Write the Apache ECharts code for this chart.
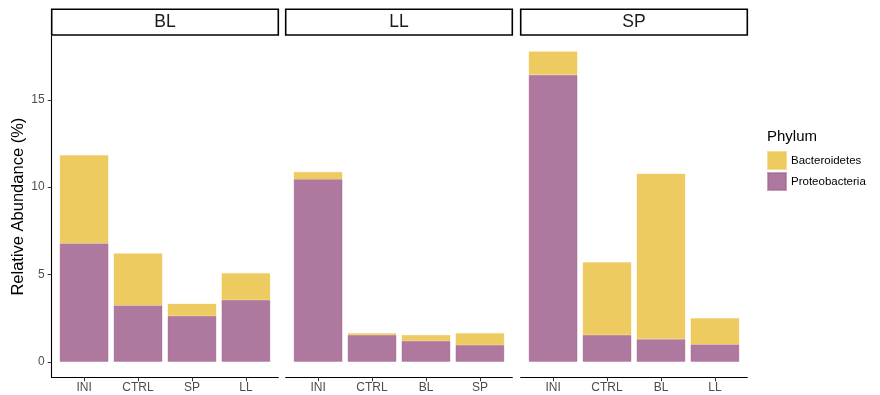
<!DOCTYPE html>
<html>
<head>
<meta charset="utf-8">
<script src="https://cdn.jsdelivr.net/npm/echarts@6/dist/echarts.min.js"></script>
<style>
  html, body { margin: 0; padding: 0; background: #ffffff; }
  #chart { width: 880px; height: 395px; }
</style>
</head>
<body>
<div id="chart"></div>
<script>
// Facet panels (sampling site) and the groups shown inside each one
const panels = ['BL', 'LL', 'SP'];
const groups = [
  ['INI', 'CTRL', 'SP', 'LL'],
  ['INI', 'CTRL', 'BL', 'SP'],
  ['INI', 'CTRL', 'BL', 'LL']
];
// Relative abundance (%) per phylum, one row per panel
const proteobacteria = [
  [6.78, 3.23, 2.62, 3.54],
  [10.45, 1.53, 1.19, 0.96],
  [16.43, 1.53, 1.30, 1.00]
];
const bacteroidetes = [
  [5.05, 2.98, 0.70, 1.54],
  [0.42, 0.11, 0.34, 0.68],
  [1.34, 4.17, 9.47, 1.50]
];
const yTicks = [0, 5, 10, 15];
const phyla = ['Bacteroidetes', 'Proteobacteria'];

const colors = { Bacteroidetes: '#eecb60', Proteobacteria: '#af789e' };
const FONT = '"Liberation Sans", Arial, sans-serif';

// Panel geometry
const panelLeft = [51.7, 285.7, 520.7];
const panelWidth = 226.6;
const panelTop = 36;
const panelBottom = 377.3;
const stripTop = 9.3;

// ggplot-style expansion: 5% on the value scale, 0.6 units on the discrete scale
let maxTotal = 0;
proteobacteria.forEach((row, i) => row.forEach((v, j) => {
  maxTotal = Math.max(maxTotal, v + bacteroidetes[i][j]);
}));
const yMin = -0.05 * maxTotal;
const yMax = maxTotal * 1.05;
const xMin = 0.4, xMax = 4.6;
const barWidth = 0.9 * panelWidth / (xMax - xMin);

const grids = [], xAxes = [], yAxes = [], series = [], graphics = [];

panels.forEach((p, i) => {
  grids.push({
    left: panelLeft[i], top: panelTop,
    width: panelWidth, height: panelBottom - panelTop,
    containLabel: false
  });
  xAxes.push({
    type: 'value', gridIndex: i, min: xMin, max: xMax,
    splitLine: { show: false },
    axisLine: { show: true, onZero: false, lineStyle: { color: '#000', width: 1.1 } },
    axisTick: { show: true, length: 4, customValues: [1, 2, 3, 4], lineStyle: { color: '#333' } },
    axisLabel: {
      customValues: [1, 2, 3, 4],
      formatter: v => groups[i][Math.round(v) - 1],
      color: '#4d4d4d', fontSize: 12, fontFamily: FONT, margin: 4
    }
  });
  yAxes.push({
    type: 'value', gridIndex: i, min: yMin, max: yMax,
    show: i === 0,
    name: i === 0 ? 'Relative Abundance (%)' : '',
    nameLocation: 'middle', nameGap: 22,
    nameTextStyle: { fontSize: 16.5, color: '#000', fontFamily: FONT },
    splitLine: { show: false },
    axisLine: { show: true, onZero: false, lineStyle: { color: '#000', width: 1.1 } },
    axisTick: { show: true, length: 4, customValues: yTicks, lineStyle: { color: '#333' } },
    axisLabel: {
      customValues: yTicks,
      color: '#4d4d4d', fontSize: 12, fontFamily: FONT, margin: 7
    }
  });

  // Each datum is [abundance, position]; the abundance column comes first so
  // that it is the dimension the stack accumulates.
  const stack = 'stack' + i;
  series.push({
    name: 'Proteobacteria', type: 'bar', stack,
    xAxisIndex: i, yAxisIndex: i, barWidth,
    encode: { x: 1, y: 0 },
    itemStyle: { color: colors.Proteobacteria, borderColor: 'rgba(160,100,140,0.6)', borderWidth: 0.6 },
    data: groups[i].map((g, j) => [proteobacteria[i][j], j + 1])
  });
  series.push({
    name: 'Bacteroidetes', type: 'bar', stack,
    xAxisIndex: i, yAxisIndex: i, barWidth,
    encode: { x: 1, y: 0 },
    itemStyle: { color: colors.Bacteroidetes, borderColor: 'rgba(240,200,80,0.6)', borderWidth: 0.6 },
    data: groups[i].map((g, j) => [bacteroidetes[i][j], j + 1])
  });

  // Facet strip
  graphics.push({
    type: 'rect',
    shape: { x: panelLeft[i], y: stripTop, width: panelWidth, height: panelTop - stripTop - 1 },
    style: { fill: '#ffffff', stroke: '#000000', lineWidth: 1.6 }
  });
  graphics.push({
    type: 'text',
    x: panelLeft[i] + panelWidth / 2, y: (stripTop + panelTop - 1) / 2 + 0.5,
    style: {
      text: p, fill: '#1a1a1a', font: '17.5px ' + FONT,
      textAlign: 'center', textVerticalAlign: 'middle'
    }
  });
});

// Legend title
graphics.push({
  type: 'text', x: 767, y: 137,
  style: { text: 'Phylum', fill: '#000', font: '15px ' + FONT, textVerticalAlign: 'middle' }
});

const chart = echarts.init(document.getElementById('chart'), null, { renderer: 'canvas' });
chart.setOption({
  animation: false,
  backgroundColor: '#ffffff',
  grid: grids,
  xAxis: xAxes,
  yAxis: yAxes,
  series,
  legend: {
    data: phyla, orient: 'vertical',
    left: 767, top: 151,
    itemWidth: 18, itemHeight: 17, itemGap: 2,
    icon: 'rect',
    textStyle: { fontSize: 11.5, color: '#000', fontFamily: FONT, padding: [0, 0, 0, 0] },
    padding: 0
  },
  graphic: graphics
});
</script>
</body>
</html>
